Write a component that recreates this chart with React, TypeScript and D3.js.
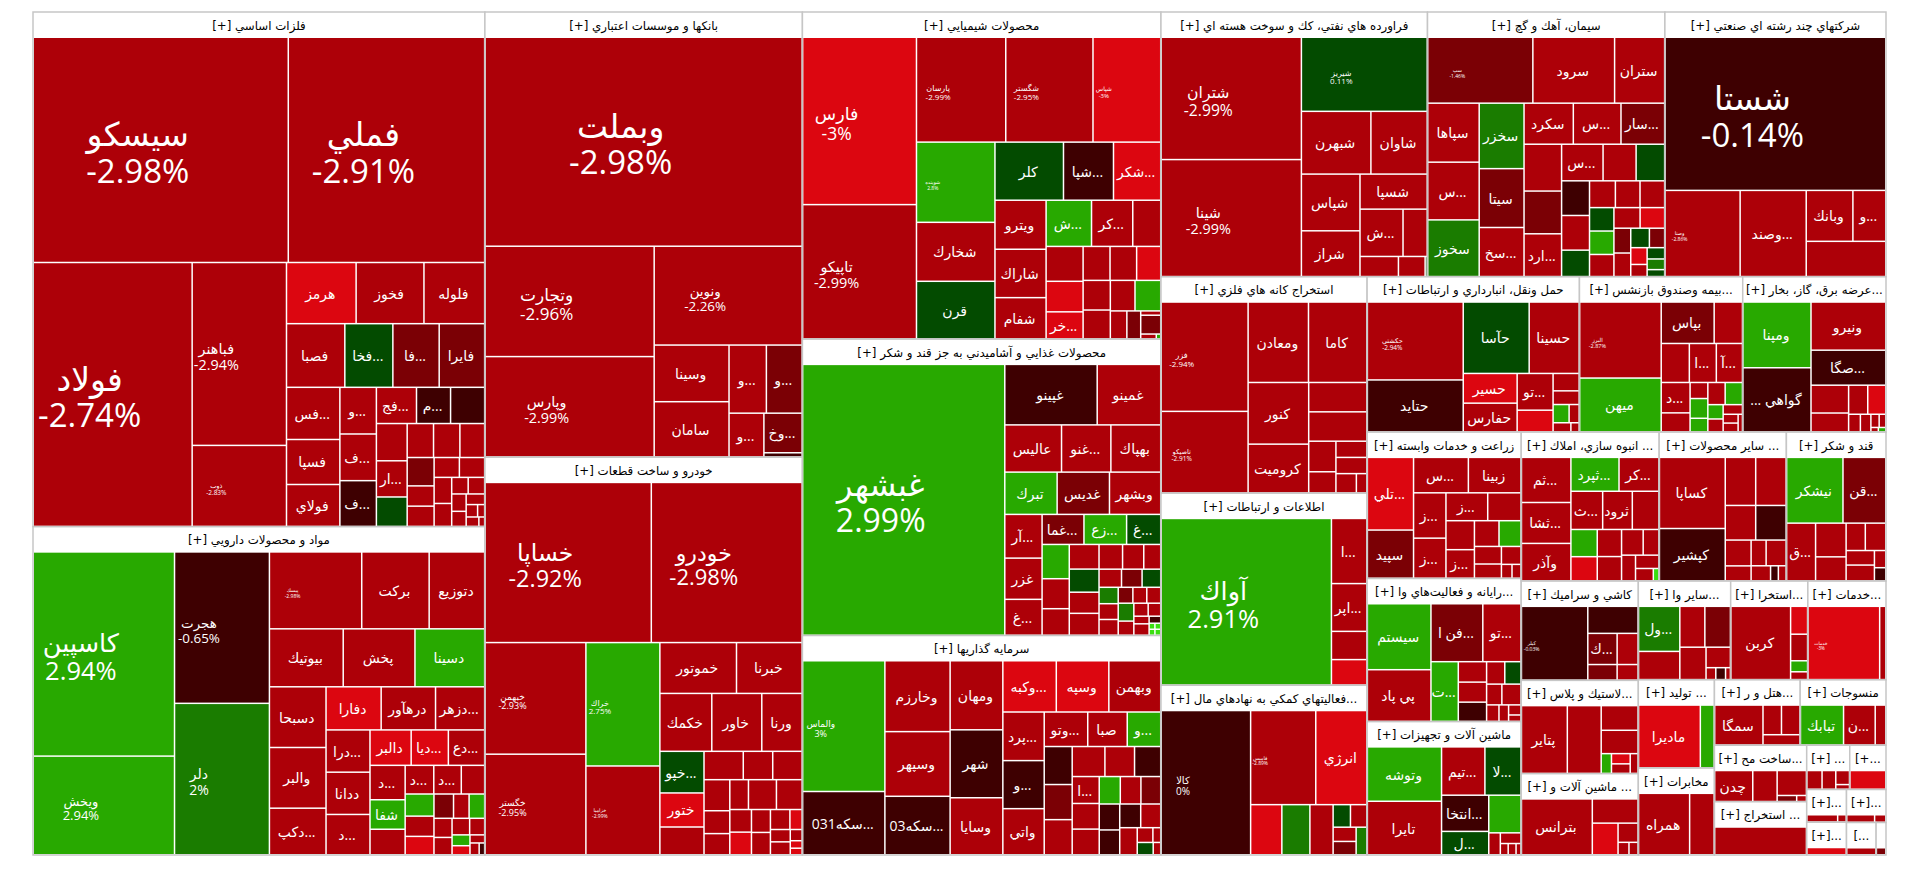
import { useMemo } from "react";
import * as d3 from "d3";

const width = 1920;
const height = 873;

// sector titles in layout order, and their size
const sectorTitles = [
    "[+] فلزات اساسي", "[+] مواد و محصولات دارويي", "[+] بانكها و موسسات اعتباري", "[+] خودرو و ساخت قطعات",
    "[+] محصولات شيميايي", "[+] محصولات غذايي و آشاميدني به جز قند و شكر", "[+] سرمايه گذاريها",
    "[+] فراورده هاي نفتي، كك و سوخت هسته اي", "[+] سيمان، آهك و گچ", "[+] شركتهاي چند رشته اي صنعتي",
    "[+] استخراج كانه هاي فلزي", "[+] اطلاعات و ارتباطات", "[+] فعاليتهاي كمكي به نهادهاي مال...",
    "[+] حمل ونقل، انبارداري و ارتباطات", "[+] بيمه وصندوق بازنشس...", "[+] عرضه برق، گاز، بخار...",
    "[+] زراعت و خدمات وابسته", "[+] رايانه و فعاليت‌هاي وا...", "[+] ماشين آلات و تجهيزات",
    "[+] انبوه سازي، املاك ...", "[+] ساير محصولات ...", "[+] قند و شكر",
    "[+] كاشي و سراميك", "[+] لاستيك و پلاس...", "[+] ماشين آلات و ...",
    "[+] ساير وا...", "[+] استخرا...", "[+] خدمات...",
    "[+] توليد ...", "[+] مخابرات", "[+] هتل و ر...", "[+] منسوجات",
    "[+] ساخت مح...", "[+] استخراج ...", "[+] ...", "[+...", "[+]...", "[+]...", "[+]...", "[...", "",
];
const sectorSizes = [
    232, 148, 141, 126, 117, 106, 78.5, 70.4, 62.7, 58.4, 44.5, 39.5, 34.9, 32.9, 25.3, 22.2, 22.5, 22, 20.5, 20.5,
    18.9, 14.8, 11.6, 10.9, 9.5, 9.1, 7.6, 7.7, 6.7, 6.6, 5.6, 5.6, 5.2, 4.9, 1.9, 1.6, 1.3, 1.3, 1.3, 0.96, 0.32,
];

const metalsNames = ["سيسكو", "فملي", "فولاد", "فباهنر", "ذوب", "هرمز", "فخوز", "فلوله", "فصبا", "فخا...", "فا...", "فايرا", "فس...", "فسپا", "فولاي", "و...", "ف...", "ف...", "فج...", "م...", "", "", "ار..."];
const metalsWeights = [52.6, 40.5, 38.4, 15.8, 7, 3.9, 3.8, 3.4, 3.4, 2.8, 2.7, 2.65, 2.55, 2.2, 2.05, 1.56, 1.56, 1.53, 1.33, 1.13, 1.13, 1.05, 1.02, 0.83, 0.82, 0.82, 0.77, 0.7, 0.5, 0.5, 0.46, 0.46, 0.42, 0.37, 0.25, 0.25, 0.23, 0.2, 0.18, 0.13, 0.08, 0.11, 0.05];
const metalsChanges = [-2.98, -2.91, -2.74, -2.94, -2.83, -3, -2.9, -2.9, -2.9, 0.5, -1.5, -1.5, -2.9, -2.9, -2.9, -2.9, -2.9, -0.5, -2.9, -0.5, -0.5, -2.9, -2.9, 0.5, -2.9, -2.9, -2.9, -1.5, -2.9, -2.9, -2.9, -2.9, -2.9, -2.9, -2.9, -2.9, -2.9, -2.9, -2.9, -2.9, -2.9, -2.9, -2.9];

const pharmaNames = ["كاسپين", "ويخش", "هجرت", "دلر", "پيسك", "بركت", "دتوزيع", "بيوتيك", "پخش", "دسينا", "دسبحا", "والبر", "دكپ...", "دفارا", "درهآور", "دزهر...", "درا...", "ددانا", "د...", "دالبر", "ديا...", "دع...", "د...", "شفا", "", "د...", "د..."];
const pharmaWeights = [26.7, 12.9, 13.3, 13.3, 6.57, 4.8, 3.95, 3.96, 3.85, 3.74, 3.18, 3.18, 2.44, 2.2, 2.17, 1.96, 1.72, 1.72, 1.64, 1.35, 1.22, 1.19, 1.12, 0.96, 0.83, 0.76, 0.73, 0.62, 0.59, 0.54, 0.49, 0.44, 0.35, 0.35, 0.32, 0.29, 0.27, 0.23, 0.18, 0.15, 0.11, 0.1, 0.06];
const pharmaChanges = [2.94, 2.94, -0.65, 2, -2.98, -2.9, -2.9, -2.9, -2.9, 2.9, -2.9, -2.9, -2.9, -3, -2.9, -2.9, -2.9, -2.9, -2.9, -3, -3, -2.9, -2.9, 2.9, -2.9, -2.9, -2.9, -2.9, 2.9, -2.9, -3, -1.5, -2.9, 2.9, -2.9, -2.9, -2.9, -2.9, 2.9, -3, -2.9, -2.9, -0.5];

const banksNames = ["وبملت", "وتجارت", "وپارس", "ونوين", "وسينا", "سامان", "و...", "و...", "و...", "وخ...", ""];
const banksWeights = [62.5, 17.6, 16, 13.8, 4, 3.9, 2.4, 2.3, 1.44, 1.43, 0.15];
const banksChanges = [-2.98, -2.96, -2.99, -2.26, -2.9, -2.9, -2.9, -1.5, -2.9, -1.5, -0.5];

const autoNames = ["خساپا", "خودرو", "خبهمن", "خگستر", "خراك", "خزاميا", "خموتور", "خبرنا", "خكمك", "خاور", "ورنا", "خپو...", "ختور"];
const autoWeights = [23.9, 21.7, 10.1, 9.1, 8.2, 5.9, 3.5, 3, 2.7, 2.6, 2.1, 1.65, 1.35, 1.1, 1, 0.75, 0.75, 0.72, 0.53, 0.49, 0.5, 0.75, 0.69, 0.44, 0.44, 0.39, 0.38, 0.35, 0.22, 0.22, 0.23, 0.12, 0.08, 0.07];
const autoChanges = [-2.92, -2.98, -2.93, -2.95, 2.75, -2.99, -2.9, -2.9, -2.9, -2.9, -2.9, 0.5, -3, -2.9, -2.9, -2.9, -2.9, -2.9, -2.9, -2.9, -2.9, -2.9, -2.9, -2.9, -3, -2.9, -2.9, -2.9, -3, -2.9, -2.9, -2.9, -3, -3];

const chemNames = ["فارس", "تاپيكو", "پارسان", "شگستر", "شپاس", "شوينده", "شخارك", "قرن", "كلر", "شپا...", "شكر...", "ويترو", "شاراك", "شفام", "ش...", "كر...", "", "", "", "خر..."];
const chemWeights = [17.7, 14.2, 8.7, 8.5, 6.6, 5.85, 4.3, 4.2, 3.7, 2.7, 2.55, 2.33, 2.3, 1.96, 1.95, 1.77, 1.2, 1.2, 1.05, 0.93, 0.85, 0.84, 0.76, 0.75, 0.73, 0.7, 0.73, 0.43, 0.36, 0.08, 0.35, 0.07, 0.02];
const chemChanges = [-3, -2.99, -2.99, -2.95, -3, 2.8, -2.9, 0.5, 0.5, -0.5, -3, -2.9, -2.9, -2.9, 2.9, -2.9, -2.9, -2.9, -3, -3, -2.9, -2.9, -3, -2.9, -2.9, -2.9, 2.9, -2.9, -1.5, -2.9, -1.5, -2.9, 2.9];

const foodNames = ["غبشهر", "غپينو", "غمينو", "عاليس", "غنو...", "بهپاك", "تبرك", "غديس", "وبشهر", "آر...", "غزر", "غ...", "غما...", "زع...", "غ..."];
const foodWeights = [47, 4.8, 3.3, 2.3, 2, 2.02, 1.9, 1.9, 1.86, 1.4, 1.32, 1.15, 1.08, 1.1, 0.88, 0.8, 0.7, 0.62, 0.63, 0.59, 0.54, 0.56, 0.5, 0.45, 0.36, 0.35, 0.32, 0.29, 0.27, 0.26, 0.26, 0.2, 0.19, 0.19, 0.24, 0.19, 0.16, 0.14, 0.1, 0.15, 0.07, 0.03, 0.03, 0.03, 0.03];
const foodChanges = [2.99, -0.5, -2.9, -2.9, -2.9, -2.9, 2.5, -1.5, -2.9, -2.9, -2.9, -2.9, -1.5, 2.5, 0.5, 2.5, -2.9, -2.9, -2.9, 0.5, -2.9, -2.9, -2.9, -2.9, -2.9, -2.9, -1.5, 0.5, 1.5, -2.9, -2.9, -1.5, -2.9, -2.9, 1.5, -2.9, -2.9, -2.9, -2.9, -2.9, -0.5, 3.1, 3.1, 3.1, 3.1];

const investNames = ["والماس", "سكه031...", "وخارزم", "وسپهر", "سكه03...", "ومهان", "شهر", "وسايا", "وكبه...", "وسپه", "وبهمن", "پرد...", "و...", "واتي", "وتو...", "صبا", "و...", "", "", "", "", "", "", "ا..."];
const investWeights = [9.3, 4.5, 4, 3.65, 3.3, 3.15, 3.1, 2.6, 2.37, 2.33, 2.3, 1.74, 1.72, 1.65, 1.3, 1.18, 1, 0.92, 0.85, 0.85, 0.85, 0.77, 0.68, 0.63, 0.6, 0.6, 0.5, 0.49, 0.47, 0.46, 0.44, 0.43, 0.41, 0.41, 0.2, 0.1, 0.17, 0.08];
const investChanges = [3, -0.5, -2.9, -2.9, -0.5, -2.9, -0.5, -2.9, -3, -3, -2.9, -2.9, -0.5, -2.9, -2.9, -2.9, 2.9, -0.5, -1.5, -2.9, -2.9, -2.9, -0.5, -2.9, -2.9, -2.9, 2.9, -2.9, -1.5, -1, -1, -1, -2.9, -2.9, -2.9, -2.9, 0.5, -2.9];

const oilNames = ["شتران", "شينا", "شيريز", "شبهرن", "شاوان", "شپاس", "شراز", "شسپا", "ش..."];
const oilWeights = [16, 15.3, 8.7, 4.07, 3.3, 3.1, 2.5, 2.2, 1.9, 1.07, 0.72, 0.5, 0.04];
const oilChanges = [-2.99, -2.99, 0.11, -2.9, -2.9, -2.9, -2.9, -2.9, -2.9, -2.9, -2.9, -2.9, 0.5];

const cementNames = ["سپ", "سرود", "ستران", "سپاها", "س...", "سخوز", "سخزر", "سيتا", "سخ...", "سكرد", "س...", "سار...", "", "", "ارد...", "س..."];
const cementWeights = [6.3, 4.9, 3, 2.76, 2.7, 2.65, 2.67, 2.4, 2, 1.84, 1.78, 1.63, 1.6, 1.46, 1.46, 1.38, 1.1, 0.95, 0.88, 0.88, 0.67, 0.63, 0.6, 0.6, 0.52, 0.52, 0.49, 0.49, 0.46, 0.38, 0.36, 0.33, 0.27, 0.25, 0.18, 0.18, 0.17, 0.11];
const cementChanges = [-1.46, -2.9, -2.9, -2.9, -2.9, 1.5, 1.5, -1.5, -2.9, -2.9, -2.9, -1.5, -2.9, -1.5, -2.9, -2.9, -2.9, 0.5, -0.5, -2.9, 0.5, -2.9, -2.9, -2.9, 0.5, 2.9, -2.9, -2.9, -3, -1.5, -2.9, 0.5, -1.5, -3, -2.9, 0.5, 1.5, 0.5];

const multiNames = ["شستا", "وصنا", "وصند...", "وبانك", "و..."];
const multiWeights = [21.6, 4.13, 3.64, 1.52, 1.07, 1.79];
const multiChanges = [-0.14, -2.86, -2.9, -2.9, -2.9, -2.9];

const miningNames = ["فزر", "تاصيكو", "ومعادن", "كاما", "كنور", "كروميت"];
const miningWeights = [8.9, 6.64, 4.55, 4.4, 3.5, 2.77, 1.6, 1.6, 0.78, 0.54, 0.47, 0.47, 0.37, 0.19];
const miningChanges = [-2.94, -2.91, -2.9, -2.9, -2.9, -2.9, -2.9, -2.9, -2.9, -2.9, -2.9, -2.9, -2.9, -2.9];

const itNames = ["آواك", "ا...", "اپر..."];
const itWeights = [25.8, 2.1, 1.54, 0.91, 0.82];
const itChanges = [2.91, -2.9, -2.9, -2.9, -3];

const auxNames = ["كالا", "فاميس", "انرژي"];
const auxWeights = [12.2, 5.8, 4.55, 1.48, 1.33, 1.1, 0.37, 0.35, 0.31, 0.29, 0.28];
const auxChanges = [0, -2.89, -3, -3, 1.5, -2.9, 0.5, -2.9, -2.9, -1.5, 1.5];

const transportNames = ["حكشتي", "حتايد", "حآسا", "حسينا", "حسير", "حفارس", "تو..."];
const transportWeights = [6.9, 4.6, 4.35, 3.3, 1.48, 1.43, 1.22, 0.72, 0.42, 0.33, 0.27, 0.17, 0.15, 0.07];
const transportChanges = [-2.94, -0.5, 0.5, -2.9, -3, -2.9, -2.9, -3, -2.9, -2.9, 2.9, -2.9, -2.9, -2.9];

const insuranceNames = ["البرز", "ميهن", "بپاس", "", "", "ا...", "آ...", "د..."];
const insuranceWeights = [5.65, 4, 2, 1.07, 1, 0.96, 0.93, 0.8, 0.5, 0.26, 0.32, 0.22, 0.35, 0.35, 0.2, 0.18, 0.17, 0.12, 0.12, 0.07];
const insuranceChanges = [-2.87, 2.9, -1.5, -2.9, -2.9, -2.9, -2.9, -2.9, -2.9, -2.9, 2.9, 2.9, -2.9, 2.9, 2.9, -2.9, -2.9, -2.9, -2.9, -2.9];

const powerNames = ["ومپنا", "... گواهي", "ونيرو", "صگا..."];
const powerWeights = [4.1, 4, 3.3, 2.4, 0.96, 0.65, 0.51, 0.48, 0.19, 0.17, 0.1, 0.08, 0.03, 0.03];
const powerChanges = [2.9, -0.5, -2.9, -0.5, -2.9, -2.9, -2.9, -3, -2.9, -2.9, -2.9, -2.9, -2.9, 2.9];

const farmNames = ["تلي...", "سپيد", "س...", "زبينا", "ز...", "ز...", "ز...", "", "", "ز..."];
const farmWeights = [2.97, 1.97, 1.72, 1.65, 1.3, 1.15, 1.03, 0.82, 0.73, 0.72, 0.56, 0.5, 0.42, 0.34, 0.31, 0.13, 0.11];
const farmChanges = [-3, -1.5, -2.9, -2.9, -2.9, -2.9, -2.9, -2.9, -2.9, -2.9, -2.9, 2.9, -2.9, -2.9, -2.9, -2.9, -2.9];

const computerNames = ["سيستم", "پي پاد", "فن ا...", "تو...", "ت..."];
const computerWeights = [3.7, 2.9, 2.65, 1.95, 1.44, 0.51, 0.5, 0.48, 0.36, 0.32, 0.28, 0.35, 0.18, 0.14, 0.11, 0.07];
const computerChanges = [2.9, -2.9, -1.5, -2.9, 2.9, -2.9, -2.9, -0.5, -2.9, 0.5, -2.9, -2.9, -2.9, -2.9, -2.9, -2.9];

const machineNames = ["وتوشه", "تايرا", "تيم...", "لا...", "انتخا...", "ل..."];
const machineWeights = [3.66, 3.6, 1.9, 1.58, 1.55, 1, 1.1, 0.23, 0.2, 0.08, 0.08, 0.05];
const machineChanges = [2.9, -2.9, -2.9, 0.5, -0.5, 0.5, 2.9, -2.9, -2.9, -2.9, -2.9, -2.9];

const buildingNames = ["ثم...", "ثشا...", "وآذر", "ثپرد...", "كر...", "ث...", "ثرود"];
const buildingWeights = [1.93, 1.75, 1.6, 1.41, 1.17, 1.05, 0.98, 0.88, 0.62, 0.55, 0.57, 0.51, 0.48, 0.35, 0.31, 0.27, 0.19, 0.06];
const buildingChanges = [-2.9, -2.9, -2.9, 2.9, -2.9, -2.9, -2.9, -2.9, 2.9, -3, -2.9, -2.9, -2.9, -2.9, -2.9, -2.9, -2.9, 3.1];

const mineralNames = ["كساپا", "كپشير"];
const mineralWeights = [4, 2.94, 1.25, 1.25, 0.9, 0.9, 0.57, 0.33, 0.33, 0.44, 0.25, 0.1, 0.1];
const mineralChanges = [-2.9, -0.5, -2.9, -2.9, -2.9, -0.5, -2.9, -2.9, -2.9, -2.9, -2.9, -0.5, -2.9];

const sugarNames = ["نيشكر", "قن...", "ق..."];
const sugarWeights = [3.24, 2.46, 1.46, 0.9, 0.64, 0.46, 0.49, 0.36, 0.39, 0.17, 0.13];
const sugarChanges = [2.9, -1.5, -2.9, -2.9, -2.9, -2.9, -2.9, -2.9, -2.9, -2.9, -0.5];

const tileNames = ["كيلر", "", "ك..."];
const tileWeights = [4.5, 1.25, 0.84, 0.42, 0.6, 0.3];
const tileChanges = [-0.03, -0.5, -1.5, -1.5, -2.9, -2.9];

const rubberNames = ["پتاير"];
const rubberWeights = [2.6, 1.92, 0.76, 0.72, 0.17, 0.16, 0.15, 0.13];
const rubberChanges = [-2.9, -2.9, -2.9, -2.9, 2.9, -3, -2.9, -2.9];

const machine2Names = ["بترانس"];
const machine2Weights = [3.5, 0.98, 0.72, 0.34, 0.12, 0.1];
const machine2Changes = [-2.9, -2.9, -3, -2.9, -2.9, -2.9];

const otherNames = ["ول..."];
const otherWeights = [1.6, 1, 0.88, 0.9, 0.73, 0.43, 0.1, 0.1, 0.05];
const otherChanges = [1.5, -2.9, -2.9, -1.5, -2.9, -2.9, -2.9, -0.5, -2.9];

const estekhraNames = ["كربن"];
const estekhraWeights = [3.97, 0.43, 0.41, 0.17, 0.12];
const estekhraChanges = [-2.9, -3, -2.9, 2.9, -2.9];

const servicesNames = ["خدمات"];
const servicesWeights = [4.7, 0.4];
const servicesChanges = [-3, -2.9];

const tolidNames = ["ماديرا"];
const tolidWeights = [3.3, 0.74];
const tolidChanges = [-3, 2.9];

const telecomNames = ["همراه"];
const telecomWeights = [2.6, 1.25];
const telecomChanges = [-2.9, -2.9];

const hotelNames = ["سمگا"];
const hotelWeights = [1.62, 0.46, 0.46, 0.32];
const hotelChanges = [-2.9, -2.9, -2.9, -2.9];

const textileNames = ["تبابك", "ن..."];
const textileWeights = [1.47, 1.08, 0.36];
const textileChanges = [2.9, -2.9, -2.9];

const castNames = ["چدن"];
const castWeights = [1, 0.64, 0.62, 0.1, 0.05];
const castChanges = [-2.9, -2.9, -2.9, -1.5, -2.9];

const small1Weights = [0.22, 0.2, 0.15, 0.05];
const small1Changes = [-2.9, -2.9, -2.9, -2.9];
const small3Weights = [0.25, 0.07];
const small3Changes = [-2.9, -2.9];
const small4Weights = [0.2, 0.08];
const small4Changes = [-2.9, -2.9];

const sectorTiles: [string[], number[], number[]][] = [
    [metalsNames, metalsWeights, metalsChanges],
    [pharmaNames, pharmaWeights, pharmaChanges],
    [banksNames, banksWeights, banksChanges],
    [autoNames, autoWeights, autoChanges],
    [chemNames, chemWeights, chemChanges],
    [foodNames, foodWeights, foodChanges],
    [investNames, investWeights, investChanges],
    [oilNames, oilWeights, oilChanges],
    [cementNames, cementWeights, cementChanges],
    [multiNames, multiWeights, multiChanges],
    [miningNames, miningWeights, miningChanges],
    [itNames, itWeights, itChanges],
    [auxNames, auxWeights, auxChanges],
    [transportNames, transportWeights, transportChanges],
    [insuranceNames, insuranceWeights, insuranceChanges],
    [powerNames, powerWeights, powerChanges],
    [farmNames, farmWeights, farmChanges],
    [computerNames, computerWeights, computerChanges],
    [machineNames, machineWeights, machineChanges],
    [buildingNames, buildingWeights, buildingChanges],
    [mineralNames, mineralWeights, mineralChanges],
    [sugarNames, sugarWeights, sugarChanges],
    [tileNames, tileWeights, tileChanges],
    [rubberNames, rubberWeights, rubberChanges],
    [machine2Names, machine2Weights, machine2Changes],
    [otherNames, otherWeights, otherChanges],
    [estekhraNames, estekhraWeights, estekhraChanges],
    [servicesNames, servicesWeights, servicesChanges],
    [tolidNames, tolidWeights, tolidChanges],
    [telecomNames, telecomWeights, telecomChanges],
    [hotelNames, hotelWeights, hotelChanges],
    [textileNames, textileWeights, textileChanges],
    [castNames, castWeights, castChanges],
    [[], [1], [-2.9]],
    [[], small1Weights, small1Changes],
    [[], [1], [-3]],
    [[], small3Weights, small3Changes],
    [[], [1], [-3]],
    [[], small4Weights, small4Changes],
    [[], [1], [-2.9]],
    [[], [1], [-1.5]],
];

// tiles that show the percent under the name, with their font size
const twoLineSizes: Record<string, number> = {
    "سيسكو": 33, "فملي": 33, "فولاد": 33, "وبملت": 33, "شستا": 33, "غبشهر": 32,
    "خساپا": 23.5, "خودرو": 22, "كاسپين": 25.5, "آواك": 25.5,
    "فارس": 17.5, "وتجارت": 17, "شتران": 15.7, "تاپيكو": 14.5, "شينا": 14.4, "وپارس": 14.4, "فباهنر": 14.4,
    "ونوين": 13.4, "هجرت": 13.4, "دلر": 14, "ويخش": 13,
    "خبهمن": 9, "خگستر": 9, "پارسان": 8, "شگستر": 8, "خراك": 8, "فزر": 8, "شيريز": 8, "والماس": 9, "كالا": 10,
    "ذوب": 6.5, "تاصيكو": 6.5, "حكشتي": 6.5, "پيسك": 5, "خزاميا": 5, "شپاس": 6, "شوينده": 5, "البرز": 5.5,
    "سپ": 5, "فاميس": 5, "كيلر": 5, "وصنا": 5, "خدمات": 4.5,
};

const colorScale = d3
    .scaleThreshold<number, string>()
    .domain([-2.999, -2, -1, 0.001, 1, 2.001, 3.001])
    .range(["#dc0610", "#ad0008", "#7b0005", "#3e0001", "#034b00", "#1a7c00", "#28a900", "#3adf10"]);

const fontFamily = "'Open Sans', 'DejaVu Sans', sans-serif";

type TileDatum = { title?: string; name?: string; change?: number; value?: number; children?: TileDatum[] };

export default function App() {
    const root = useMemo(() => {
        const data: TileDatum = {
            children: sectorTitles.map((title, s) => {
                const [names, weights, changes] = sectorTiles[s];
                const total = d3.sum(weights);
                return {
                    title,
                    children: weights.map((w, i) => ({
                        name: names[i] ?? "",
                        change: changes[i],
                        value: (w / total) * sectorSizes[s],
                    })),
                };
            }),
        };
        const hierarchy = d3.hierarchy<TileDatum>(data).sum((d) => d.value ?? 0);
        return d3
            .treemap<TileDatum>()
            .tile(d3.treemapSquarify.ratio(1))
            .size([1853, 843])
            .paddingTop((d) => (d.depth === 1 ? 26 : 0))
            .paddingBottom((d) => (d.depth === 1 ? 1 : 0))
            .paddingLeft((d) => (d.depth === 1 ? 1 : 0))
            .paddingRight((d) => (d.depth === 1 ? 1 : 0))
            .paddingInner((d) => (d.depth === 1 ? 1.5 : 0))(hierarchy);
    }, []);

    const sectors = root.children ?? [];

    return (
        <svg width={width} height={height} style={{ position: "absolute", left: 0, top: 0 }} fontFamily={fontFamily}>
            <rect width={width} height={height} fill="#ffffff" />
            <g transform="translate(33, 12)">
                {sectors.map((sector, s) => (
                    <g key={s}>
                        <rect
                            x={sector.x0}
                            y={sector.y0}
                            width={sector.x1 - sector.x0}
                            height={sector.y1 - sector.y0}
                            fill="#ffffff"
                            stroke="#c6c6c6"
                            strokeWidth={1.5}
                        />
                        <text
                            x={(sector.x0 + sector.x1) / 2}
                            y={sector.y0 + 13.5}
                            textAnchor="middle"
                            dominantBaseline="central"
                            fontSize={11.8}
                            fill="#000000"
                            fontFamily="'DejaVu Sans', sans-serif"
                        >
                            {sector.data.title}
                        </text>
                        {(sector.children ?? []).map((leaf, i) => {
                            const cx = (leaf.x0 + leaf.x1) / 2;
                            const cy = (leaf.y0 + leaf.y1) / 2;
                            const name = leaf.data.name ?? "";
                            const change = leaf.data.change ?? 0;
                            // a few names repeat across sectors as plain tiles
                            const size = name === "شپاس" && s === 7 ? undefined : twoLineSizes[name];
                            return (
                                <g key={i}>
                                    <rect
                                        x={leaf.x0}
                                        y={leaf.y0}
                                        width={leaf.x1 - leaf.x0}
                                        height={leaf.y1 - leaf.y0}
                                        fill={colorScale(change)}
                                    />
                                    {size ? (
                                        <text textAnchor="middle" fill="#ffffff" fontSize={size}>
                                            <tspan x={cx - 23} y={cy + 3 - size * 0.2}>
                                                {name}
                                            </tspan>
                                            <tspan x={cx - 23} y={cy + 3 + size * 0.9}>
                                                {`${change}%`}
                                            </tspan>
                                        </text>
                                    ) : name ? (
                                        <text
                                            x={cx - 1}
                                            y={cy}
                                            textAnchor="middle"
                                            dominantBaseline="central"
                                            fill="#ffffff"
                                            fontSize={14}
                                        >
                                            {name}
                                        </text>
                                    ) : null}
                                </g>
                            );
                        })}
                    </g>
                ))}
            </g>
        </svg>
    );
}
